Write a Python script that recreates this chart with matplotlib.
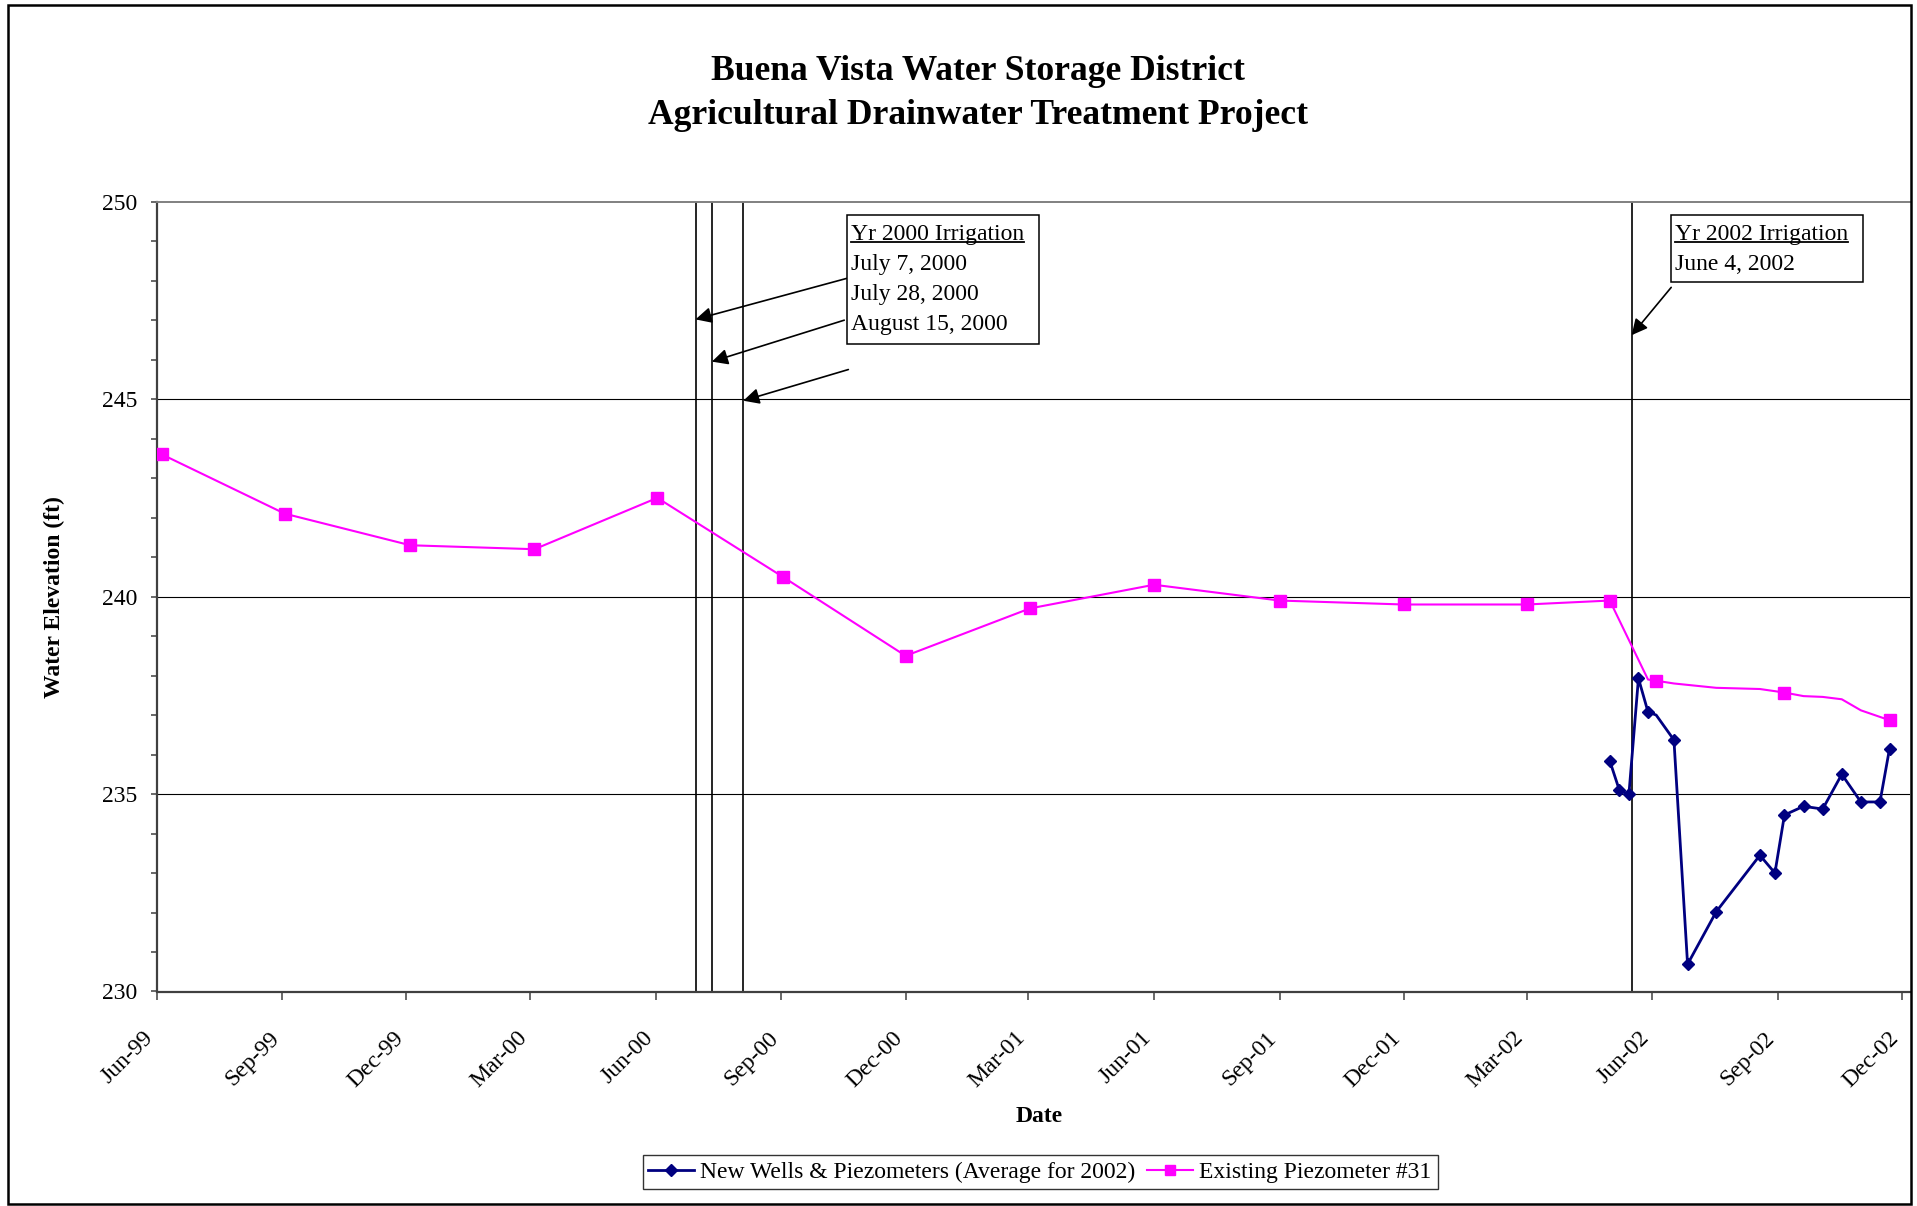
import matplotlib
matplotlib.use("Agg")
import matplotlib.pyplot as plt
import matplotlib.transforms as mtransforms
from matplotlib.patches import Rectangle
from matplotlib.lines import Line2D
import pandas as pd

plt.rcParams['font.family'] = ['Liberation Serif', 'DejaVu Serif']

# ---------------- data ----------------
title_lines = ["Buena Vista Water Storage District",
               "Agricultural Drainwater Treatment Project"]
y_label = "Water Elevation (ft)"
x_label = "Date"
series_labels = ["New Wells & Piezometers (Average for 2002)",
                 "Existing Piezometer #31"]

piez31_dates = ["1999-06-05", "1999-09-03", "1999-12-04", "2000-03-04", "2000-06-02",
                "2000-09-02", "2000-12-01", "2001-03-02", "2001-06-01", "2001-09-01",
                "2001-12-01", "2002-03-01", "2002-05-01", "2002-05-29", "2002-06-04",
                "2002-06-17", "2002-07-18", "2002-08-19", "2002-09-06", "2002-09-20",
                "2002-10-04", "2002-10-18", "2002-11-01", "2002-11-22"]
piez31_values = [243.6, 242.1, 241.3, 241.2, 242.5,
                 240.5, 238.5, 239.7, 240.3, 239.9,
                 239.8, 239.8, 239.9, 237.9, 237.87,
                 237.8, 237.69, 237.66, 237.57, 237.48,
                 237.46, 237.40, 237.12, 236.87]
piez31_marked = [0, 1, 2, 3, 4, 5, 6, 7, 8, 9, 10, 11, 12, 14, 18, 23]

new_wells_dates = ["2002-05-01", "2002-05-08", "2002-05-15", "2002-05-22", "2002-05-29",
                   "2002-06-04", "2002-06-17", "2002-06-27", "2002-07-18", "2002-08-19",
                   "2002-08-30", "2002-09-06", "2002-09-20", "2002-10-04", "2002-10-18",
                   "2002-11-01", "2002-11-15", "2002-11-22"]
new_wells_values = [235.84, 235.10, 234.99, 237.93, 237.08,
                    237.00, 236.37, 230.69, 232.02, 233.45,
                    233.00, 234.47, 234.69, 234.62, 235.50,
                    234.80, 234.80, 236.15]
new_wells_marked = [0, 1, 2, 3, 4, 6, 7, 8, 9, 10, 11, 12, 13, 14, 15, 16, 17]

x_tick_dates = ["1999-06-01", "1999-09-01", "1999-12-01", "2000-03-01", "2000-06-01",
                "2000-09-01", "2000-12-01", "2001-03-01", "2001-06-01", "2001-09-01",
                "2001-12-01", "2002-03-01", "2002-06-01", "2002-09-01", "2002-12-01"]
x_tick_labels = ["Jun-99", "Sep-99", "Dec-99", "Mar-00", "Jun-00", "Sep-00", "Dec-00",
                 "Mar-01", "Jun-01", "Sep-01", "Dec-01", "Mar-02", "Jun-02", "Sep-02", "Dec-02"]
x_limits = ["1999-06-01", "2002-12-07"]
y_ticks = [230, 235, 240, 245, 250]
y_gridlines = [235, 240, 245]
y_limits = [230, 250]

irrigation_lines = ["2000-06-30", "2000-07-12", "2000-08-04", "2002-05-17"]
arrow_tails = [("2000-10-19", 248.06), ("2000-10-17", 247.00),
               ("2000-10-20", 245.75), ("2002-06-15", 247.83)]
arrow_tips = [("2000-06-30", 247.02), ("2000-07-12", 245.95),
              ("2000-08-04", 244.96), ("2002-05-17", 246.62)]
box1_text = ["Yr 2000 Irrigation", "July 7, 2000", "July 28, 2000", "August 15, 2000"]
box2_text = ["Yr 2002 Irrigation", "June 4, 2002"]

# ---------------- layout helpers ----------------
W, H, DPI = 1917, 1206, 100
def fx(x):
    return x / W
def fy(y):
    return 1 - y / H

fig = plt.figure(figsize=(W / DPI, H / DPI), dpi=DPI)
ax = fig.add_axes([fx(156.5), fy(991.5), fx(1910) - fx(156.5), fy(201.7) - fy(991.5)])

TD = lambda s: pd.Timestamp(s)

# gridlines
for g in y_gridlines:
    ax.axhline(g, color='black', lw=0.8, zorder=1)

# irrigation vertical lines
for d in irrigation_lines:
    ax.axvline(TD(d), color='black', lw=1.2, zorder=2)

# series
blue, = ax.plot([TD(d) for d in new_wells_dates], new_wells_values, color='#000080',
                lw=2.0, marker='D', ms=6.5, markevery=new_wells_marked,
                mfc='#000080', mec='#000080', zorder=4, label=series_labels[0])
pink, = ax.plot([TD(d) for d in piez31_dates], piez31_values, color='#FF00FF',
                lw=1.5, marker='s', ms=8.2, markevery=piez31_marked,
                mfc='#FF00FF', mec='#FF00FF', zorder=5, label=series_labels[1])

# arrows
for (td, tv), (hd, hv) in zip(arrow_tails, arrow_tips):
    ax.annotate("", xy=(TD(hd), hv), xytext=(TD(td), tv),
                arrowprops=dict(arrowstyle='-|>', color='black', lw=1.2,
                                mutation_scale=24, shrinkA=0, shrinkB=0),
                zorder=6)

ax.set_xlim(TD(x_limits[0]), TD(x_limits[1]))
ax.set_ylim(*y_limits)
ax.set_yticks(y_ticks)
ax.set_yticks(range(y_limits[0], y_limits[1] + 1), minor=True)
ax.set_xticks([TD(d) for d in x_tick_dates], labels=x_tick_labels)

ax.tick_params(axis='y', which='both', direction='out', length=4.3, width=1.1,
               color='#404040', labelsize=17, pad=9.3)
ax.tick_params(axis='x', which='major', direction='out', length=5.5, width=1.1,
               color='#404040', labelsize=17, pad=25.7)
ax.tick_params(axis='x', which='minor', length=0)

offset = mtransforms.ScaledTranslation(-6 / DPI, 0, fig.dpi_scale_trans)
for lab in ax.get_xticklabels():
    lab.set_rotation(45)
    lab.set_ha('right')
    lab.set_va('center')
    lab.set_rotation_mode('anchor')
    lab.set_transform(lab.get_transform() + offset)

for side in ['left', 'bottom']:
    ax.spines[side].set_color('#404040')
    ax.spines[side].set_linewidth(1.6)
ax.spines['top'].set_color('#808080')
ax.spines['top'].set_linewidth(1.4)
ax.spines['right'].set_visible(False)

# titles and axis labels
fig.text(fx(978), fy(80), title_lines[0], ha='center', va='baseline',
         fontsize=25.6, fontweight='bold')
fig.text(fx(978), fy(124), title_lines[1], ha='center', va='baseline',
         fontsize=25.6, fontweight='bold')
fig.text(fx(59.6), fy(597), y_label, rotation=90, rotation_mode='anchor',
         ha='center', va='baseline', fontsize=17, fontweight='bold')
fig.text(fx(1039), fy(1122), x_label, ha='center', va='baseline',
         fontsize=17, fontweight='bold')

# annotation boxes
def draw_box(x0, y0, x1, y1, lines, baseline0):
    fig.patches.append(Rectangle((fx(x0), fy(y1)), fx(x1) - fx(x0), fy(y0) - fy(y1),
                                 transform=fig.transFigure, facecolor='white',
                                 edgecolor='black', lw=1.1, zorder=7))
    texts = []
    for i, s in enumerate(lines):
        t = fig.text(fx(x0 + 4), fy(baseline0 + 30 * i), s, ha='left', va='baseline',
                     fontsize=17, zorder=8)
        texts.append(t)
    return texts

t1 = draw_box(847.3, 215, 1039, 344.3, box1_text, 240)
t2 = draw_box(1671, 215, 1862.7, 282.3, box2_text, 240)

renderer = fig.canvas.get_renderer()
for t in (t1[0], t2[0]):
    bb = t.get_window_extent(renderer)
    x0 = bb.x0 / W
    x1 = bb.x1 / W
    fig.lines.append(Line2D([x0, x1], [fy(242), fy(242)], transform=fig.transFigure,
                            color='black', lw=1.3, zorder=9))

# legend
leg = fig.legend(handles=[blue, pink], labels=series_labels, loc='center',
                 bbox_to_anchor=(fx(1040), fy(1172)), ncol=2, fontsize=17,
                 frameon=True, fancybox=False, shadow=False, borderpad=0.25,
                 handlelength=1.95, handletextpad=0.25, columnspacing=0.5,
                 borderaxespad=0, markerscale=0.9)
leg.get_frame().set_edgecolor('black')
leg.get_frame().set_linewidth(1.0)
for h in leg.legend_handles:
    h.set_markevery([1])

# chart border
fig.patches.append(Rectangle((fx(7.5), fy(1204)), fx(1910.5) - fx(7.5), fy(4.5) - fy(1204),
                             transform=fig.transFigure, fill=False, edgecolor='black',
                             lw=1.8, zorder=10))

fig.savefig("out.png", dpi=DPI)
